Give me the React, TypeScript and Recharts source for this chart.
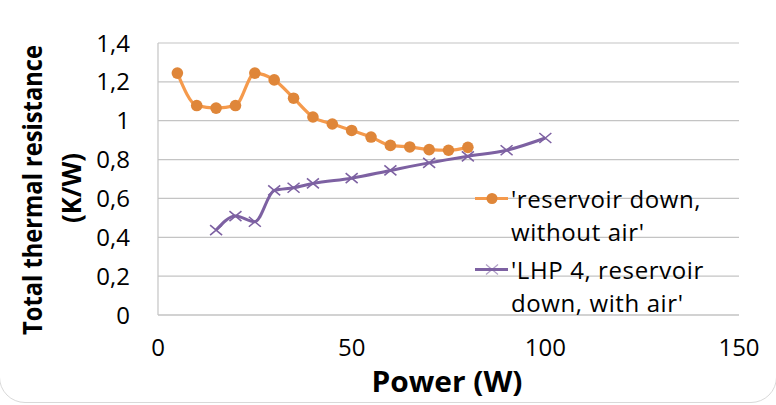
import React from "react";
import { LineChart, Line, XAxis, YAxis, CartesianGrid, Legend, Label } from "recharts";

// series 1: reservoir down, without air
const powerA = [5, 10, 15, 20, 25, 30, 35, 40, 45, 50, 55, 60, 65, 70, 75, 80];
const resistA = [1.245, 1.078, 1.065, 1.078, 1.245, 1.21, 1.116, 1.019, 0.983, 0.95, 0.916, 0.873, 0.865, 0.851, 0.848, 0.863];

// series 2: LHP 4, reservoir down, with air
const powerB = [15, 20, 25, 30, 35, 40, 50, 60, 70, 80, 90, 100];
const resistB = [0.437, 0.509, 0.48, 0.641, 0.655, 0.677, 0.704, 0.744, 0.783, 0.817, 0.848, 0.911];

const xTicks = [0, 50, 100, 150];
const yTicks = [0, 0.2, 0.4, 0.6, 0.8, 1, 1.2, 1.4];

const nameA = ["'reservoir down,", "without air'"];
const nameB = ["'LHP 4, reservoir", "down, with air'"];

const ORANGE_LINE = "#F59A4C";
const ORANGE_DOT = "#DF8639";
const PURPLE = "#7D61A2";
const GRID = "#c4c4c4";
const FONT = "'Open Sans', sans-serif";

const dataA = powerA.map((p, i) => ({ power: p, r: resistA[i] }));
const dataB = powerB.map((p, i) => ({ power: p, r: resistB[i] }));

const fmtComma = (v: number) => String(v).replace(".", ",");

function CrossDot(props: any) {
  const { cx, cy, index } = props;
  if (cx == null || cy == null) return null;
  return (
    <path
      key={`x-${index}`}
      d={`M${cx - 6},${cy - 5}L${cx + 6},${cy + 5}M${cx - 6},${cy + 5}L${cx + 6},${cy - 5}`}
      stroke={PURPLE}
      strokeWidth={1.6}
      fill="none"
    />
  );
}

function YTitle() {
  return (
    <g fontFamily={FONT} fontWeight={700} fontSize={27} fill="#000">
      <text
        transform="translate(42,190) rotate(-90)"
        textAnchor="middle"
        textLength={290}
        lengthAdjust="spacingAndGlyphs"
      >
        Total thermal resistance
      </text>
      <text
        transform="translate(81,188) rotate(-90)"
        textAnchor="middle"
        textLength={70}
        lengthAdjust="spacingAndGlyphs"
      >
        (K/W)
      </text>
    </g>
  );
}

function XTitle() {
  return (
    <text
      x={447}
      y={392}
      textAnchor="middle"
      fontFamily={FONT}
      fontWeight={700}
      fontSize={28}
      textLength={151}
      lengthAdjust="spacingAndGlyphs"
      fill="#000"
    >
      Power (W)
    </text>
  );
}

function LegendBox() {
  const items = [
    { lines: nameA, kind: "dot" },
    { lines: nameB, kind: "cross" },
  ];
  return (
    <div style={{ fontFamily: FONT, fontSize: 24, letterSpacing: 0.6, lineHeight: "33px", color: "#000" }}>
      {items.map((it, i) => (
        <div key={i} style={{ display: "flex", alignItems: "flex-start", marginBottom: i === 0 ? 5 : 0 }}>
          <svg width={36} height={33} style={{ flex: "none" }}>
            {it.kind === "dot" ? (
              <>
                <line x1={0} y1={16.5} x2={33} y2={16.5} stroke={ORANGE_LINE} strokeWidth={3} />
                <circle cx={17} cy={16.5} r={5.5} fill={ORANGE_DOT} />
              </>
            ) : (
              <>
                <line x1={0} y1={16.5} x2={33} y2={16.5} stroke={PURPLE} strokeWidth={3} />
                <path d="M11,11.5L23,21.5M11,21.5L23,11.5" stroke={PURPLE} strokeWidth={1.2} opacity={0.6} />
              </>
            )}
          </svg>
          <div style={{ whiteSpace: "nowrap" }}>
            {it.lines.map((l, j) => (
              <div key={j}>{l}</div>
            ))}
          </div>
        </div>
      ))}
    </div>
  );
}

export default function App() {
  return (
    <div style={{ position: "absolute", left: 0, top: 0, width: 776, height: 405, overflow: "hidden", background: "#fff" }}>
      <div
        style={{
          position: "absolute",
          left: -1,
          top: -30,
          width: 778,
          height: 433,
          boxSizing: "border-box",
          border: "1px solid #d9d9d9",
          borderRadius: 26,
        }}
      />
      <LineChart width={776} height={405} margin={{ top: 43, right: 37, bottom: 60, left: 0 }}>
        <CartesianGrid vertical={false} stroke={GRID} strokeWidth={1.2} />
        <XAxis
          type="number"
          dataKey="power"
          domain={[0, 150]}
          ticks={xTicks}
          height={30}
          axisLine={{ stroke: GRID, strokeWidth: 1.2 }}
          tickLine={false}
          tickSize={0}
          tickMargin={24}
          tick={{ fontFamily: FONT, fontSize: 24, fill: "#000" }}
          allowDuplicatedCategory={false}
        >
          <Label content={<XTitle />} />
        </XAxis>
        <YAxis
          type="number"
          domain={[0, 1.4]}
          ticks={yTicks}
          width={158}
          axisLine={{ stroke: GRID, strokeWidth: 1.2 }}
          tickLine={false}
          tickSize={0}
          tickMargin={28}
          tickFormatter={fmtComma}
          tick={{ fontFamily: FONT, fontSize: 24, fill: "#000" }}
        >
          <Label content={<YTitle />} />
        </YAxis>
        <Legend
          layout="vertical"
          align="center"
          verticalAlign="middle"
          content={<LegendBox />}
          wrapperStyle={{ position: "absolute", left: 475, top: 182, width: 300, height: 150 }}
        />
        <Line
          data={dataA}
          dataKey="r"
          name={nameA.join(" ")}
          type="monotone"
          stroke={ORANGE_LINE}
          strokeWidth={3.2}
          dot={{ r: 5.8, fill: ORANGE_DOT, stroke: ORANGE_DOT, strokeWidth: 0 }}
          isAnimationActive={false}
        />
        <Line
          data={dataB}
          dataKey="r"
          name={nameB.join(" ")}
          type="monotone"
          stroke={PURPLE}
          strokeWidth={3}
          dot={<CrossDot />}
          isAnimationActive={false}
        />
      </LineChart>
    </div>
  );
}
